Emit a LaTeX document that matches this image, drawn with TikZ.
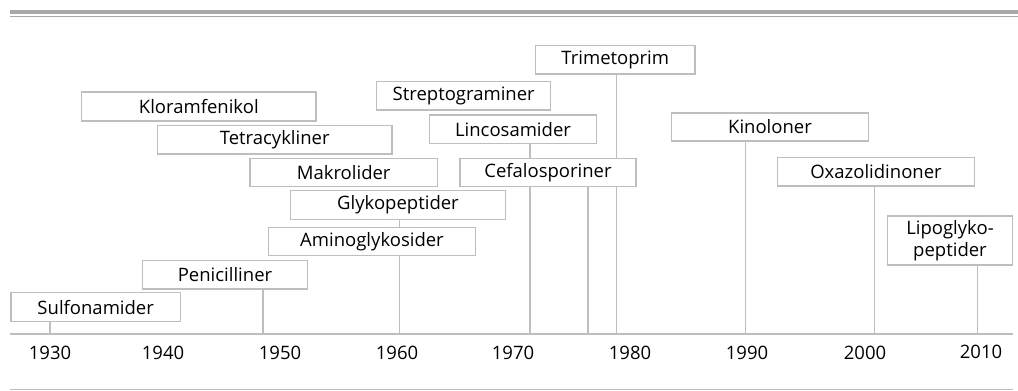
\documentclass[tikz,border=0pt]{standalone}
\usepackage{fontspec}
\setmainfont{Open Sans}
\definecolor{rulegray}{HTML}{A8A8A8}
\definecolor{linegray}{HTML}{BEBEBE}
\tikzset{
  box/.style={draw=linegray, line width=1.3pt, fill=white, inner sep=0pt, align=center,
    font=\fontsize{18.5pt}{22pt}\selectfont},
  conn/.style={draw=linegray, line width=1.3pt},
  yearlbl/.style={inner sep=0pt, font=\fontsize{18.5pt}{22pt}\selectfont},
}
\begin{document}
\begin{tikzpicture}[x=1pt,y=-1pt]
\useasboundingbox (0,0) rectangle (1018,391);
% rules
\coordinate (rtL) at (10,11.75);
\coordinate (rtR) at (1018,11.75);
\coordinate (rsL) at (10,16.6);
\coordinate (rsR) at (1018,16.6);
\draw[rulegray, line width=4.5pt] (rtL) -- (rtR);
\draw[rulegray, line width=1.2pt] (rsL) -- (rsR);
\coordinate (axL) at (10,334);
\coordinate (axR) at (1013,334);
\coordinate (btL) at (10,389.8);
\coordinate (btR) at (1013,389.8);
\draw[conn] (axL) -- (axR);
\draw[conn] (btL) -- (btR);
% axis points
\coordinate (tSulf) at (50,334);
\coordinate (tPeni) at (263,334);
\coordinate (tAmino) at (399.5,334);
\coordinate (tLinc) at (530,334);
\coordinate (tCefa) at (588,334);
\coordinate (tTrim) at (616.7,334);
\coordinate (tKino) at (745.7,334);
\coordinate (tOxa) at (874.7,334);
\coordinate (tLipo) at (977.3,334);
% boxes
\node[box, minimum width=234.3pt, minimum height=29pt] (klor) at (198.8,106.5) {Kloramfenikol};
\node[box, minimum width=174pt, minimum height=28.3pt] (strep) at (463.7,95.8) {Streptograminer};
\node[box, minimum width=159.3pt, minimum height=28.3pt] (trim) at (615.3,59.8) {Trimetoprim};
\node[box, minimum width=196.6pt, minimum height=28pt] (kino) at (770,127) {Kinoloner};
\node[box, minimum width=167.4pt, minimum height=28.3pt] (linc) at (513,129.2) {Lincosamider};
\node[box, minimum width=234.7pt, minimum height=28.3pt] (tetra) at (274.7,139.8) {Tetracykliner};
\node[box, minimum width=187.3pt, minimum height=28.4pt] (makro) at (343.7,172.5) {Makrolider};
\node[box, minimum width=176pt, minimum height=28.4pt] (cefa) at (548,172.5) {Cefalosporiner};
\node[box, minimum width=196.6pt, minimum height=28.3pt] (oxa) at (876,171.8) {Oxazolidinoner};
\node[box, minimum width=214.6pt, minimum height=28.6pt] (glyko) at (398,205) {Glykopeptider};
\node[box, minimum width=206.6pt, minimum height=28.4pt] (amino) at (372,241.5) {Aminoglykosider};
\node[box, minimum width=124.6pt, minimum height=49pt] (lipo) at (950,240.5) {Lipoglyko-\\peptider};
\node[box, minimum width=164.6pt, minimum height=28.3pt] (peni) at (225,274.8) {Penicilliner};
\node[box, minimum width=169.3pt, minimum height=29pt] (sulf) at (95.7,307.2) {Sulfonamider};
% connectors
\draw[conn] (sulf.south -| tSulf) -- (tSulf);
\draw[conn] (peni.south -| tPeni) -- (tPeni);
\draw[conn] (glyko.south -| tAmino) -- (amino.north -| tAmino);
\draw[conn] (amino.south -| tAmino) -- (tAmino);
\draw[conn] (linc.south -| tLinc) -- (cefa.north -| tLinc);
\draw[conn] (cefa.south -| tLinc) -- (tLinc);
\draw[conn] (cefa.south -| tCefa) -- (tCefa);
\draw[conn] (trim.south -| tTrim) -- (cefa.north -| tTrim);
\draw[conn] (cefa.south -| tTrim) -- (tTrim);
\draw[conn] (kino.south -| tKino) -- (tKino);
\draw[conn] (oxa.south -| tOxa) -- (tOxa);
\draw[conn] (lipo.south -| tLipo) -- (tLipo);
% year labels
\node[yearlbl] (y1930) at (50,353) {1930};
\node[yearlbl] (y1940) at (163,353) {1940};
\node[yearlbl] (y1950) at (280,353) {1950};
\node[yearlbl] (y1960) at (397,353) {1960};
\node[yearlbl] (y1970) at (513,353) {1970};
\node[yearlbl] (y1980) at (630,353) {1980};
\node[yearlbl] (y1990) at (747,353) {1990};
\node[yearlbl] (y2000) at (865,353) {2000};
\node[yearlbl] (y2010) at (981,352) {2010};
\end{tikzpicture}
\end{document}
